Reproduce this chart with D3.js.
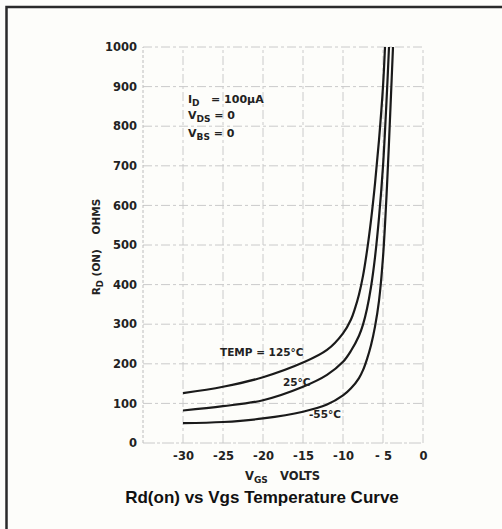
<!DOCTYPE html>
<html>
<head>
<meta charset="utf-8">
<script src="https://cdn.jsdelivr.net/npm/d3@7"></script>
<style>
  html, body { margin: 0; padding: 0; background: #fdfdfa; }
  svg { display: block; }
  text { white-space: pre; }
</style>
</head>
<body>
<svg id="chart" width="502" height="529"></svg>
<script>
// ---- data ----
const xTicks = [-30, -25, -20, -15, -10, -5, 0];
const xTickLabels = ["-30", "-25", "-20", "-15", "-10", "- 5", "0"];
const yTicks = [0, 100, 200, 300, 400, 500, 600, 700, 800, 900, 1000];
const yTickLabels = ["0", "100", "200", "300", "400", "500", "600", "700", "800", "900", "1000"];

const vgs125 = [-30, -25, -20, -15, -12, -10, -9, -8.5, -8, -7.5, -7, -6.5, -6, -5.5, -5, -4.75];
const rd125  = [126, 142, 166, 203, 235, 277, 312, 340, 375, 422, 485, 562, 655, 765, 900, 1000];

const vgs25 = [-30, -25, -20, -15, -12, -10, -9, -8, -7.5, -7, -6.5, -6, -5.5, -5, -4.5, -4.25];
const rd25  = [82, 93, 108, 142, 172, 205, 233, 271, 299, 339, 394, 469, 569, 699, 889, 1000];

const vgs55 = [-30, -25, -20, -15, -12, -10, -9, -8, -7.5, -7, -6.5, -6, -5.5, -5, -4.5, -4, -3.75];
const rd55  = [50, 53, 62, 79, 97, 120, 138, 164, 184, 212, 247, 294, 359, 469, 649, 879, 1000];

const curveLabels = ["TEMP = 125°C", "25°C", "-55°C"];

// ---- drawing ----
const svg = d3.select("#chart");
const x = d3.scaleLinear().domain([-35, 0]).range([143, 423]);
const y = d3.scaleLinear().domain([0, 1000]).range([443, 47]);

// frame
svg.append("path")
  .attr("d", "M6.5,529 L6.5,7 L502,7")
  .attr("fill", "none").attr("stroke", "#2a2a2a").attr("stroke-width", 2.5);

// grid
const grid = svg.append("g");
grid.selectAll("line.h").data(yTicks).enter().append("line")
  .attr("x1", x(-35)).attr("x2", x(0))
  .attr("y1", d => y(d)).attr("y2", d => y(d))
  .attr("stroke", "#cacaca").attr("stroke-width", 1)
  .attr("stroke-dasharray", d => d === 0 ? "12,2,3,2" : "9,3,3,3");
grid.selectAll("line.v").data(xTicks).enter().append("line")
  .attr("x1", d => x(d)).attr("x2", d => x(d))
  .attr("y1", y(0)).attr("y2", y(1000))
  .attr("stroke", "#cacaca").attr("stroke-width", 1)
  .attr("stroke-dasharray", "9,3,3,3");
grid.append("line")
  .attr("x1", x(-35)).attr("x2", x(-35)).attr("y1", y(0)).attr("y2", y(1000))
  .attr("stroke", "#bcbcbc").attr("stroke-width", 1).attr("stroke-dasharray", "3,2");

// axes (labels via d3 axes, domain/ticks hidden)
const yAxis = d3.axisLeft(y).tickValues(yTicks).tickSize(0).tickPadding(6)
  .tickFormat((d, i) => yTickLabels[i]);
const gy = svg.append("g").attr("transform", `translate(${x(-35)},0)`).call(yAxis);
gy.select(".domain").remove();
gy.selectAll("text").attr("font-family", "DejaVu Sans").attr("font-weight", "bold")
  .attr("font-size", 11.5).attr("fill", "#222");

const xAxis = d3.axisBottom(x).tickValues(xTicks).tickSize(0).tickPadding(9)
  .tickFormat((d, i) => xTickLabels[i]);
const gx = svg.append("g").attr("transform", `translate(0,${y(0)})`).call(xAxis);
gx.select(".domain").remove();
gx.selectAll("text").attr("font-family", "DejaVu Sans").attr("font-weight", "bold")
  .attr("font-size", 11.5).attr("fill", "#222");

// curves
const line = d3.line().x(d => x(d[0])).y(d => y(d[1])).curve(d3.curveCatmullRom.alpha(0.5));
const series = [
  d3.zip(vgs125, rd125),
  d3.zip(vgs25, rd25),
  d3.zip(vgs55, rd55)
];
svg.selectAll("path.curve").data(series).enter().append("path")
  .attr("class", "curve")
  .attr("d", line)
  .attr("fill", "none").attr("stroke", "#1a1a1a").attr("stroke-width", 2.2);

// curve labels
const lblFont = { "font-family": "DejaVu Sans", "font-weight": "bold", "font-size": 10.5, "fill": "#222" };
function styled(t, f) { Object.entries(f).forEach(([k, v]) => t.attr(k, v)); return t; }
styled(svg.append("text").attr("x", 220).attr("y", 356).text(curveLabels[0]), lblFont);
styled(svg.append("text").attr("x", 283).attr("y", 386).text(curveLabels[1]), lblFont);
styled(svg.append("text").attr("x", 309).attr("y", 418).text(curveLabels[2]), lblFont);

// condition annotation
const annFont = { "font-family": "DejaVu Sans", "font-weight": "bold", "font-size": 11, "fill": "#222" };
function subText(xp, yp, main, sub, rest) {
  const t = styled(svg.append("text").attr("x", xp).attr("y", yp), annFont);
  t.append("tspan").text(main);
  t.append("tspan").attr("dy", 3).attr("font-size", 9).text(sub);
  t.append("tspan").attr("dy", -3).text(rest);
  return t;
}
subText(188, 103, "I", "D", "   = 100\u03BCA");
subText(188, 119, "V", "DS", " = 0");
subText(188, 137, "V", "BS", " = 0");

// axis titles
const yt = styled(svg.append("text")
  .attr("transform", `translate(100,247) rotate(-90)`)
  .attr("text-anchor", "middle"), { "font-family": "DejaVu Sans", "font-weight": "bold", "font-size": 10.5, "fill": "#222" });
yt.append("tspan").text("R");
yt.append("tspan").attr("dy", 3).attr("font-size", 8.5).text("D");
yt.append("tspan").attr("dy", -3).text(" (ON)    OHMS");

const xt = styled(svg.append("text").attr("x", 245).attr("y", 480),
  { "font-family": "DejaVu Sans", "font-weight": "bold", "font-size": 11.5, "fill": "#222" });
xt.append("tspan").text("V");
xt.append("tspan").attr("dy", 3).attr("font-size", 9).text("GS");
styled(svg.append("text").attr("x", 280).attr("y", 480).text("VOLTS"),
  { "font-family": "DejaVu Sans", "font-weight": "bold", "font-size": 11.5, "fill": "#222" });

// title
svg.append("text").attr("x", 262).attr("y", 503).attr("text-anchor", "middle")
  .attr("font-family", "Liberation Sans, Arial, sans-serif").attr("font-weight", "bold")
  .attr("font-size", 17).attr("fill", "#111")
  .text("Rd(on) vs Vgs Temperature Curve");
</script>
</body>
</html>
